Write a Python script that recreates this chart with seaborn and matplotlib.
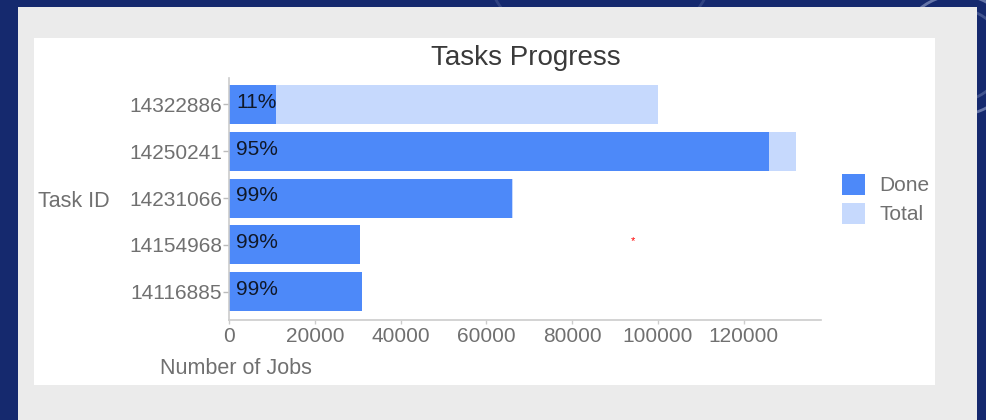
import matplotlib
matplotlib.use("Agg")
import matplotlib.pyplot as plt
from matplotlib.patches import Rectangle, Arc, Patch
import pandas as pd
import seaborn as sns

# Task progress data
task_ids = ["14322886", "14250241", "14231066", "14154968", "14116885"]
jobs_done = [11000, 125900, 66000, 30500, 31000]
jobs_total = [100000, 132100, 66200, 30600, 31100]
x_ticks = [0, 20000, 40000, 60000, 80000, 100000, 120000]

series_names = ["Done", "Total"]
done_color = "#4d89f9"
total_color = "#c6d9fd"

df = pd.DataFrame({"task": task_ids, "done": jobs_done, "total": jobs_total})
# whole percent completed, truncated so unfinished tasks never read 100%
df["pct"] = (100 * df["done"] // df["total"]).astype(int)

sns.set_theme(style="white")
plt.rcParams["font.family"] = ["Liberation Sans", "DejaVu Sans"]

W, H = 986, 420
fig = plt.figure(figsize=(W / 100, H / 100), dpi=100)
fig.patch.set_facecolor("#15296e")

# Backdrop: decorative arcs, grey panel and white card
bg = fig.add_axes([0, 0, 1, 1], zorder=0)
bg.set_xlim(0, W)
bg.set_ylim(H, 0)
bg.axis("off")
for (cx, cy, r, a) in [(958, 55, 60, 0.45), (958, 55, 46, 0.25), (600, -60, 120, 0.15)]:
    bg.add_patch(Arc((cx, cy), 2 * r, 2 * r, color="#c8d2f0", lw=2, alpha=a))
bg.add_patch(Rectangle((18, 7), 959, H - 7, facecolor="#ebebeb", edgecolor="none"))
bg.add_patch(Rectangle((34, 38), 901, 347, facecolor="white", edgecolor="none"))
bg.text(633, 241, "*", color="red", fontsize=8, ha="center", va="center")

ax = fig.add_axes([229 / W, 1 - 320 / H, (821 - 229) / W, (320 - 78) / H], zorder=1)
ax.set_facecolor("none")

sns.barplot(data=df, y="task", x="total", order=task_ids, orient="h",
            color=total_color, saturation=1, width=0.83, ax=ax, edgecolor="none")
sns.barplot(data=df, y="task", x="done", order=task_ids, orient="h",
            color=done_color, saturation=1, width=0.83, ax=ax, edgecolor="none")

for i, row in df.iterrows():
    ax.annotate(f"{row['pct']}%", xy=(0, i), xytext=(5, 1.5), textcoords="offset points",
                ha="left", va="center", fontsize=15, color="#101828")

ax.set_xlim(0, 138000)
ax.set_ylim(4.6, -0.56)
ax.set_xticks(x_ticks)
ax.set_xticklabels([str(t) for t in x_ticks])
ax.set_xlabel("")
ax.set_ylabel("")
for s in ["top", "right"]:
    ax.spines[s].set_visible(False)
for s in ["left", "bottom"]:
    ax.spines[s].set_color("#cccccc")
    ax.spines[s].set_linewidth(1.2)
ax.tick_params(axis="x", bottom=True, length=3, width=1, color="#cccccc",
               labelsize=15, labelcolor="#707070", pad=2)
ax.tick_params(axis="y", left=True, length=4, width=1, color="#bbbbbb",
               labelsize=15, labelcolor="#707070", pad=1)

# Titles and axis labels
fig.text(526 / W, 1 - 58 / H, "Tasks Progress", ha="center", va="center",
         fontsize=20, color="#3a3a3a")
fig.text(38 / W, 1 - 201 / H, "Task ID", ha="left", va="center",
         fontsize=15.5, color="#707070")
fig.text(160 / W, 1 - 368 / H, "Number of Jobs", ha="left", va="center",
         fontsize=15.5, color="#707070")

# Legend
handles = [Patch(facecolor=done_color, edgecolor="none"),
           Patch(facecolor=total_color, edgecolor="none")]
fig.legend(handles, series_names, loc="center left",
           bbox_to_anchor=(842 / W, 1 - 199 / H), frameon=False,
           fontsize=15, labelcolor="#707070", handlelength=1.1, handleheight=1.2,
           handletextpad=0.7, labelspacing=0.35, borderaxespad=0, borderpad=0)

fig.savefig("out.png", dpi=100, facecolor=fig.get_facecolor())
